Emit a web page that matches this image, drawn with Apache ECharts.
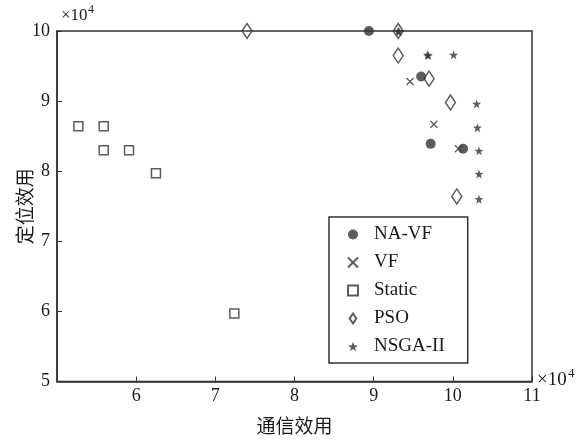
<!DOCTYPE html>
<html>
<head>
<meta charset="utf-8">
<script src="https://cdn.jsdelivr.net/npm/echarts@6/dist/echarts.min.js"></script>
<style>
  html, body { margin: 0; padding: 0; background: #fff; }
  #chart { width: 581px; height: 440px; }
</style>
</head>
<body>
<div id="chart"></div>
<script>
// Utility pairs [communication utility (×10^4), localisation utility (×10^4)]
const naVF   = [[8.94, 10.0], [9.60, 9.35], [9.72, 8.39], [10.13, 8.32]];
const vf     = [[9.46, 9.28], [9.76, 8.67], [10.07, 8.32]];
const staticPts = [[5.27, 8.64], [5.59, 8.64], [5.59, 8.30], [5.91, 8.30], [6.25, 7.97], [7.24, 5.97]];
const pso    = [[7.40, 10.0], [9.31, 10.0], [9.31, 9.65], [9.70, 9.32], [9.97, 8.98], [10.05, 7.64]];
const nsga   = [[9.31, 10.0], [9.32, 9.99], [9.68, 9.66], [9.69, 9.65], [10.01, 9.66],
                [10.30, 8.96], [10.31, 8.62], [10.33, 8.29], [10.33, 7.96], [10.33, 7.60]];

const seriesNames = ['NA-VF', 'VF', 'Static', 'PSO', 'NSGA-II'];
const xTicks = { min: 5, max: 11, step: 1 };
const yTicks = { min: 5, max: 10, step: 1 };

const ink = '#333333';
const textInk = '#1a1a1a';
const serif = '"Liberation Serif", "Times New Roman", serif';
const cjk = '"Noto Sans CJK SC", sans-serif';

const starPath = 'path://M50,0L61.76,33.82L97.55,34.55L69.02,56.18L79.39,90.45L50,70L20.61,90.45L30.98,56.18L2.45,34.55L38.24,33.82Z';
const crossPath = 'path://M0,0L10,10M10,0L0,10';
const diamondPath = 'path://M5,0L10,7.5L5,15L0,7.5Z';

const chart = echarts.init(document.getElementById('chart'));

chart.setOption({
  animation: false,
  backgroundColor: '#fff',
  grid: {
    left: 57, right: 49, top: 31, bottom: 58.5,
    outerBoundsMode: 'none',
    containLabel: false,
    show: true, borderColor: ink, borderWidth: 1.5
  },
  xAxis: {
    type: 'value', min: xTicks.min, max: xTicks.max, interval: xTicks.step,
    name: '通信效用', nameLocation: 'middle', nameGap: 35, nameMoveOverlap: false,
    nameTextStyle: { fontFamily: cjk, fontSize: 19, color: textInk },
    axisLine: { lineStyle: { color: ink, width: 1.5 } },
    axisTick: { inside: true, length: 5, lineStyle: { color: ink, width: 1 } },
    axisLabel: { showMinLabel: false, fontFamily: serif, fontSize: 18, color: textInk, margin: 6 },
    splitLine: { show: false }
  },
  yAxis: {
    type: 'value', min: yTicks.min, max: yTicks.max, interval: yTicks.step,
    name: '定位效用', nameLocation: 'middle', nameGap: 23, nameRotate: 90, nameMoveOverlap: false,
    nameTextStyle: { fontFamily: cjk, fontSize: 19, color: textInk },
    axisLine: { lineStyle: { color: ink, width: 1.5 } },
    axisTick: { inside: true, length: 5, lineStyle: { color: ink, width: 1 } },
    axisLabel: { fontFamily: serif, fontSize: 18, color: textInk, margin: 7 },
    splitLine: { show: false }
  },
  legend: {
    orient: 'vertical', left: 329, top: 217,
    padding: [8, 23, 7, 18],
    itemWidth: 10, itemHeight: 10, itemGap: 9,
    symbolKeepAspect: true,
    borderColor: ink, borderWidth: 1.5, backgroundColor: '#fff',
    textStyle: { fontFamily: serif, fontSize: 19, color: textInk, padding: [0, 0, 0, 11] },
    data: [
      { name: seriesNames[0], icon: 'circle', itemStyle: { color: ink } },
      { name: seriesNames[1], icon: crossPath },
      { name: seriesNames[2], icon: 'rect' },
      { name: seriesNames[3], icon: diamondPath },
      { name: seriesNames[4], icon: starPath }
    ]
  },
  graphic: [
    { type: 'text', left: 61, top: 7, style: { text: '×10', font: '17px ' + serif, fill: textInk } },
    { type: 'text', left: 88, top: 4, style: { text: '4', font: '12px ' + serif, fill: textInk } },
    { type: 'text', left: 537, top: 371, style: { text: '×10', font: '19px ' + serif, fill: textInk } },
    { type: 'text', left: 568, top: 367, style: { text: '4', font: '13px ' + serif, fill: textInk } }
  ],
  series: [
    {
      name: seriesNames[0], type: 'scatter', data: naVF, clip: false,
      symbol: 'circle', symbolSize: 10,
      itemStyle: { color: ink }
    },
    {
      name: seriesNames[1], type: 'scatter', data: vf, clip: false,
      symbol: crossPath, symbolSize: 7,
      itemStyle: { color: ink, borderColor: ink, borderWidth: 1.3 }
    },
    {
      name: seriesNames[2], type: 'scatter', data: staticPts, clip: false,
      symbol: 'rect', symbolSize: 9,
      itemStyle: { color: '#fff', borderColor: ink, borderWidth: 1.5 }
    },
    {
      name: seriesNames[3], type: 'scatter', data: pso, clip: false,
      symbol: diamondPath, symbolSize: [10, 15],
      itemStyle: { color: 'rgba(255,255,255,0)', borderColor: ink, borderWidth: 1.5 }
    },
    {
      name: seriesNames[4], type: 'scatter', data: nsga, clip: false,
      symbol: starPath, symbolSize: 9,
      itemStyle: { color: ink }
    }
  ]
});
</script>
</body>
</html>
